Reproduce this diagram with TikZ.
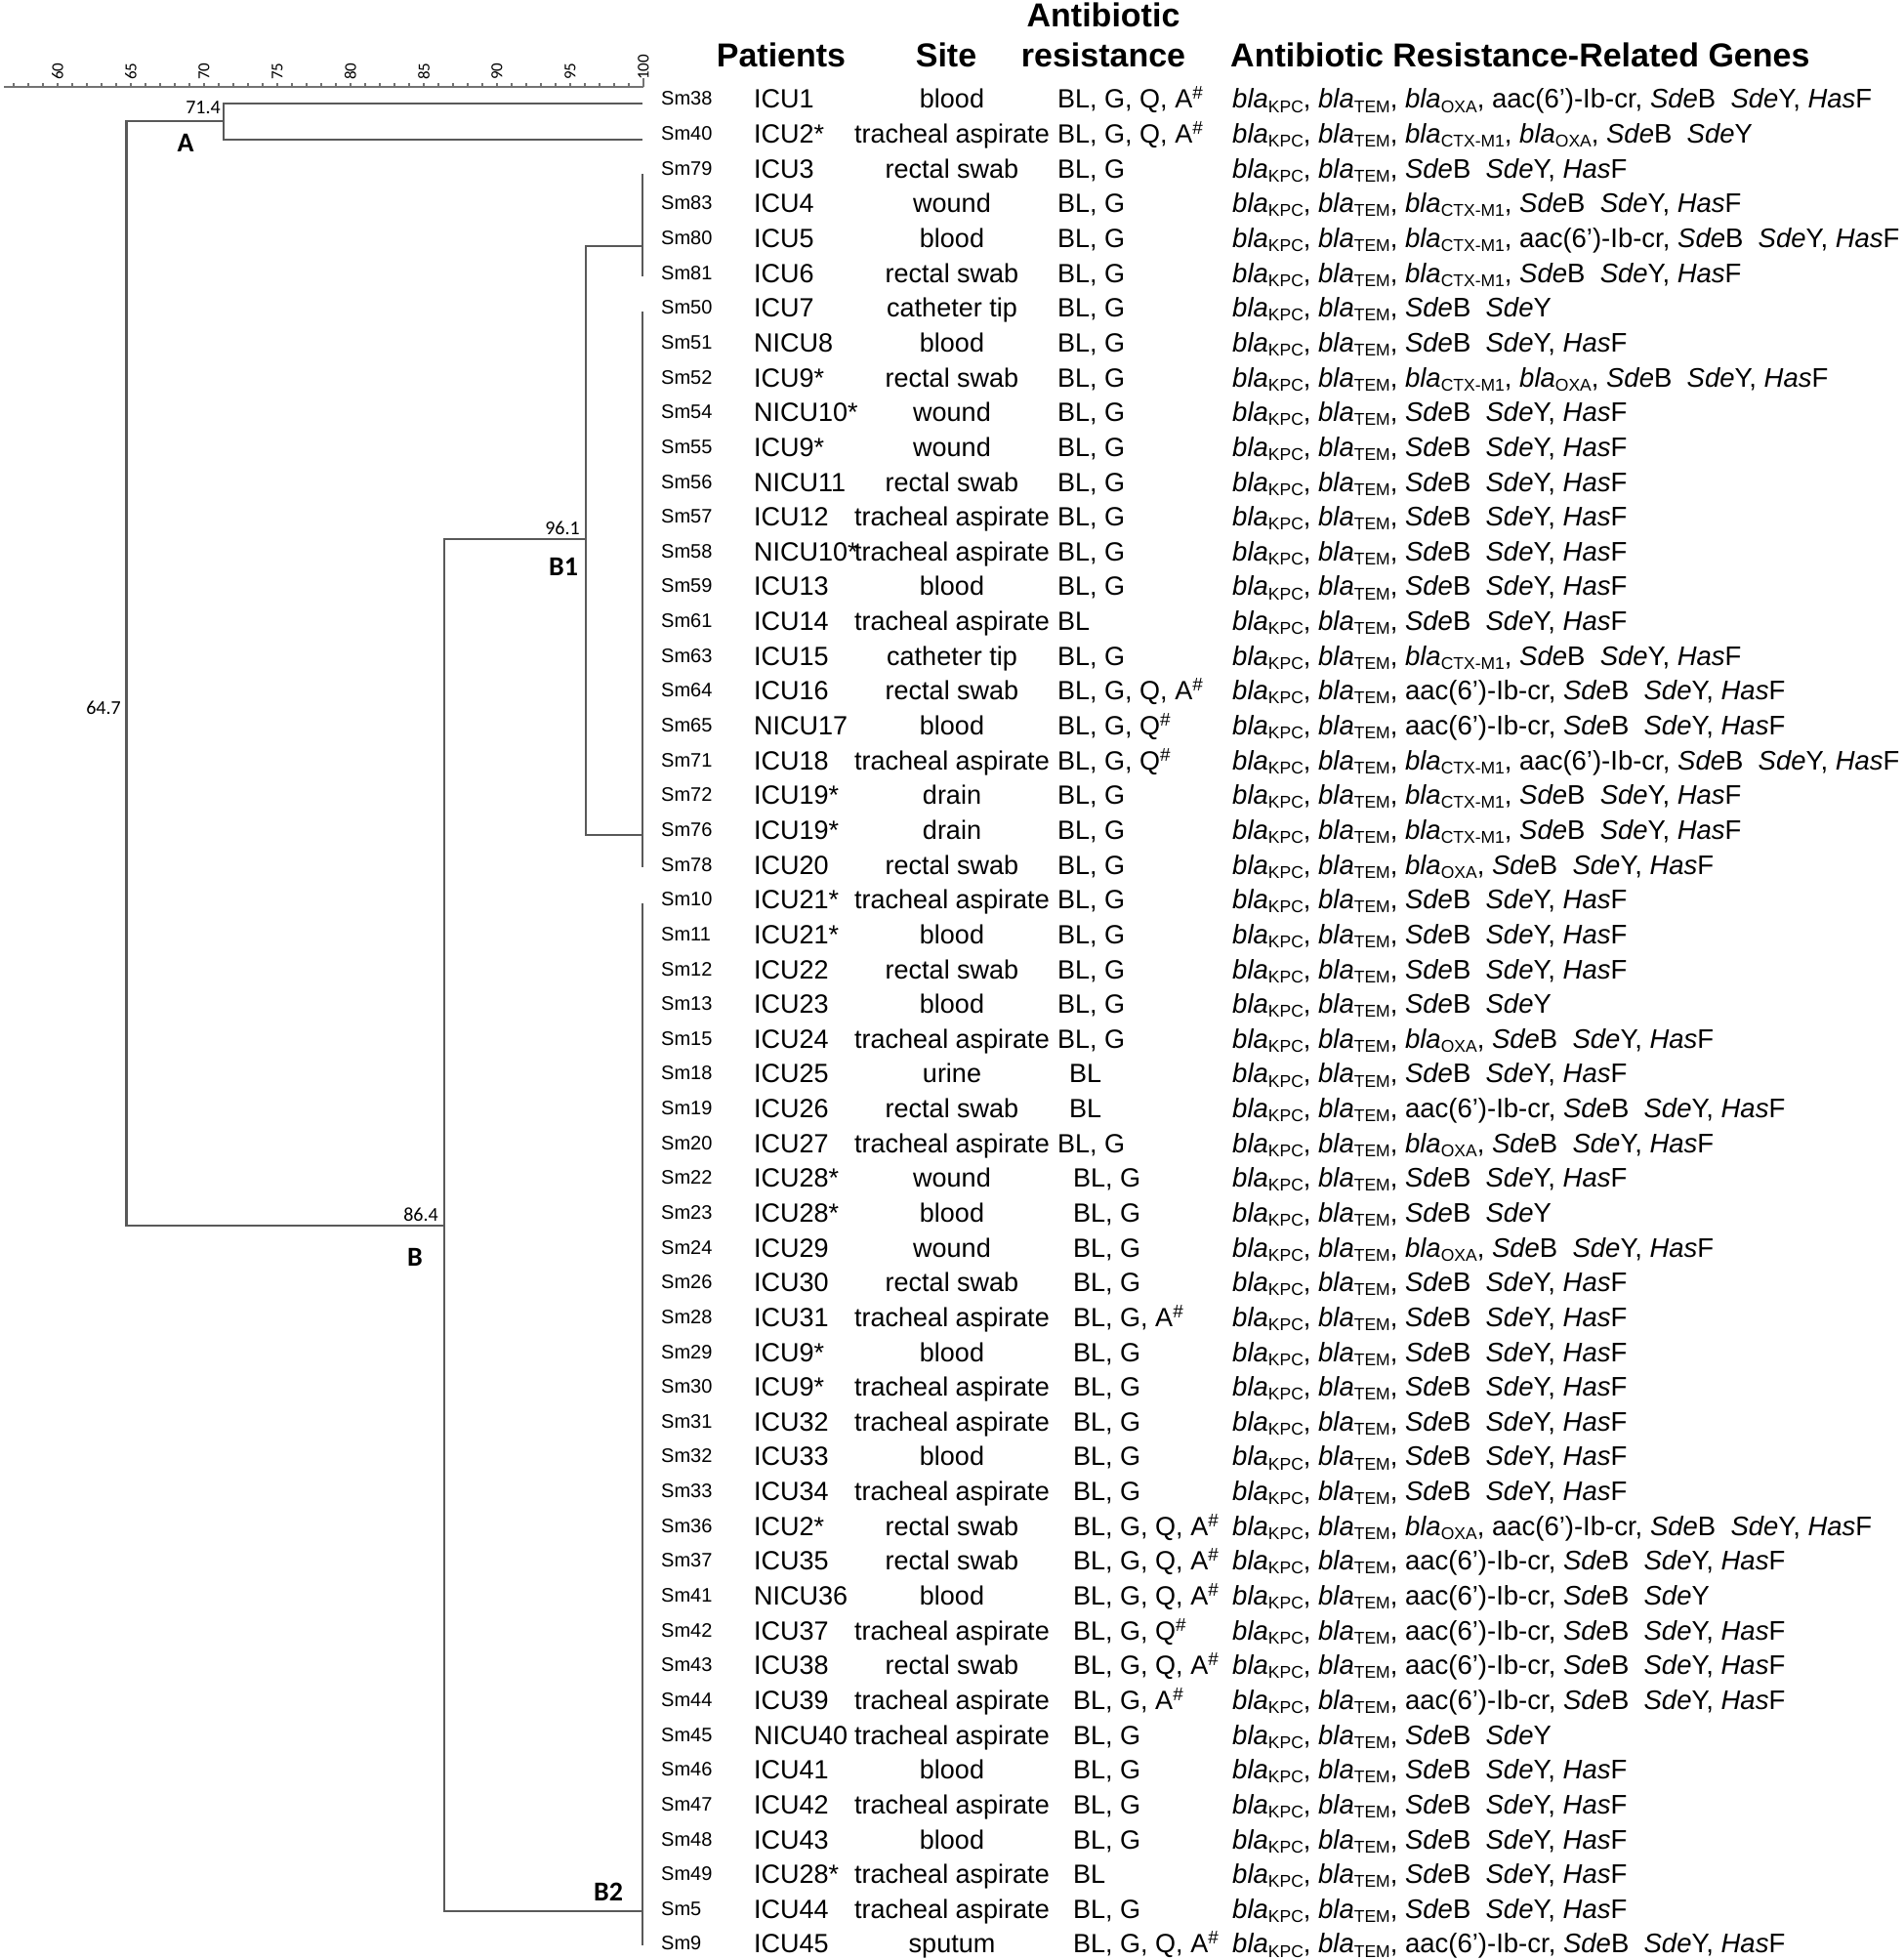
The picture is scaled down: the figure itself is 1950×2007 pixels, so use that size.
\documentclass[tikz,border=0pt]{standalone}
\usepackage{fontspec}
\setmainfont{Liberation Sans}
\newfontfamily\dendrofont{Carlito}
\newcommand{\gsub}[1]{\raisebox{-0.28ex}{\fontsize{17.5}{17.5}\selectfont #1}}
\newcommand{\bla}[1]{\textit{bla}\gsub{#1}}
\newcommand{\kpc}{\bla{KPC}}
\newcommand{\tem}{\bla{TEM}}
\newcommand{\ctx}{\bla{CTX-M1}}
\newcommand{\oxa}{\bla{OXA}}
\newcommand{\aac}{aac(6’)-Ib-cr}
\newcommand{\sdey}{\textit{Sde}B\ \ \textit{Sde}Y}
\newcommand{\hasf}{\textit{Has}F}
\newcommand{\ah}{A\textsuperscript{\#}}
\newcommand{\qh}{Q\textsuperscript{\#}}
\tikzset{
  tree/.style={draw=black!65, line width=2.2pt},
  axisline/.style={draw=black!55, line width=1.4pt},
  cell/.style={inner sep=0pt, anchor=base west, font=\fontsize{27}{30}\selectfont},
  genecell/.style={cell, font=\fontsize{27.5}{30}\selectfont},
  smlabel/.style={inner sep=0pt, anchor=base west, font=\fontsize{20}{22}\selectfont},
  head/.style={inner sep=0pt, anchor=base, font=\fontsize{34}{38}\selectfont\bfseries},
  ticklabel/.style={inner sep=0pt, anchor=west, rotate=90, font=\dendrofont\fontsize{17}{18}\selectfont},
  simval/.style={inner sep=0pt, anchor=base east, font=\dendrofont\fontsize{20}{22}\selectfont},
  clus/.style={inner sep=0pt, anchor=base, font=\dendrofont\fontsize{28}{30}\selectfont\bfseries}
}
\begin{document}
\begin{tikzpicture}[x=1pt, y=-1pt]
  \useasboundingbox[fill=white] (0,0) rectangle (1950,2007);

  \draw[axisline] (4,89) -- (659,89);
  \foreach \v in {57,...,100}
    \draw[axisline] ({659-(100-\v)*15},89) -- ++(0,-4);
  \draw[axisline] (659,89) -- (659,80);
  \foreach \v in {60,65,...,100}
    \node[ticklabel] (t\v) at ({659-(100-\v)*15},82) {\v};

  \coordinate (A) at (229,124);
  \coordinate (R) at (129.5,690);
  \coordinate (B) at (455,1255);
  \coordinate (B1) at (600,552);
  \coordinate (B1a) at (658,252);
  \coordinate (B1b) at (658,855);
  \coordinate (B2) at (658,1957);
  \draw[tree] (658,106) -| (A) |- (658,143);
  \draw[tree] (A) -| (R) |- (B);
  \draw[tree] (B1) -| (B) |- (B2);
  \draw[tree] (B1a) -| (B1) |- (B1b);
  \draw[tree] (658,178) -- (658,283);
  \draw[tree] (658,319) -- (658,888);
  \draw[tree] (658,925) -- (658,1992);

  \node[simval] (v714) at (226,117) {71.4};
  \node[simval] (v647) at (124,731) {64.7};
  \node[simval] (v961) at (594,547) {96.1};
  \node[simval] (v864) at (449,1250) {86.4};
  \node[clus] (cA) at (190,156) {A};
  \node[clus] (cB1) at (577,589) {B1};
  \node[clus] (cB) at (425,1296) {B};
  \node[clus] (cB2) at (623,1946) {B2};

  \node[head] (hpat) at (800,69) {Patients};
  \node[head] (hsite) at (969,69) {Site};
  \node[head] (hres1) at (1130,28) {Antibiotic};
  \node[head] (hres2) at (1130,69) {resistance};
  \node[head, anchor=base west] (hgen) at (1260,69) {Antibiotic Resistance-Related Genes};

  \foreach \sm/\pat/\site/\arx/\res/\genes [count=\i] in {
    Sm38/ICU1/blood/1083/{BL, G, Q, \ah}/{\kpc, \tem, \oxa, \aac, \sdey, \hasf},
    Sm40/ICU2*/tracheal aspirate/1083/{BL, G, Q, \ah}/{\kpc, \tem, \ctx, \oxa, \sdey},
    Sm79/ICU3/rectal swab/1083/{BL, G}/{\kpc, \tem, \sdey, \hasf},
    Sm83/ICU4/wound/1083/{BL, G}/{\kpc, \tem, \ctx, \sdey, \hasf},
    Sm80/ICU5/blood/1083/{BL, G}/{\kpc, \tem, \ctx, \aac, \sdey, \hasf},
    Sm81/ICU6/rectal swab/1083/{BL, G}/{\kpc, \tem, \ctx, \sdey, \hasf},
    Sm50/ICU7/catheter tip/1083/{BL, G}/{\kpc, \tem, \sdey},
    Sm51/NICU8/blood/1083/{BL, G}/{\kpc, \tem, \sdey, \hasf},
    Sm52/ICU9*/rectal swab/1083/{BL, G}/{\kpc, \tem, \ctx, \oxa, \sdey, \hasf},
    Sm54/NICU10*/wound/1083/{BL, G}/{\kpc, \tem, \sdey, \hasf},
    Sm55/ICU9*/wound/1083/{BL, G}/{\kpc, \tem, \sdey, \hasf},
    Sm56/NICU11/rectal swab/1083/{BL, G}/{\kpc, \tem, \sdey, \hasf},
    Sm57/ICU12/tracheal aspirate/1083/{BL, G}/{\kpc, \tem, \sdey, \hasf},
    Sm58/NICU10*/tracheal aspirate/1083/{BL, G}/{\kpc, \tem, \sdey, \hasf},
    Sm59/ICU13/blood/1083/{BL, G}/{\kpc, \tem, \sdey, \hasf},
    Sm61/ICU14/tracheal aspirate/1083/{BL}/{\kpc, \tem, \sdey, \hasf},
    Sm63/ICU15/catheter tip/1083/{BL, G}/{\kpc, \tem, \ctx, \sdey, \hasf},
    Sm64/ICU16/rectal swab/1083/{BL, G, Q, \ah}/{\kpc, \tem, \aac, \sdey, \hasf},
    Sm65/NICU17/blood/1083/{BL, G, \qh}/{\kpc, \tem, \aac, \sdey, \hasf},
    Sm71/ICU18/tracheal aspirate/1083/{BL, G, \qh}/{\kpc, \tem, \ctx, \aac, \sdey, \hasf},
    Sm72/ICU19*/drain/1083/{BL, G}/{\kpc, \tem, \ctx, \sdey, \hasf},
    Sm76/ICU19*/drain/1083/{BL, G}/{\kpc, \tem, \ctx, \sdey, \hasf},
    Sm78/ICU20/rectal swab/1083/{BL, G}/{\kpc, \tem, \oxa, \sdey, \hasf},
    Sm10/ICU21*/tracheal aspirate/1083/{BL, G}/{\kpc, \tem, \sdey, \hasf},
    Sm11/ICU21*/blood/1083/{BL, G}/{\kpc, \tem, \sdey, \hasf},
    Sm12/ICU22/rectal swab/1083/{BL, G}/{\kpc, \tem, \sdey, \hasf},
    Sm13/ICU23/blood/1083/{BL, G}/{\kpc, \tem, \sdey},
    Sm15/ICU24/tracheal aspirate/1083/{BL, G}/{\kpc, \tem, \oxa, \sdey, \hasf},
    Sm18/ICU25/urine/1095/{BL}/{\kpc, \tem, \sdey, \hasf},
    Sm19/ICU26/rectal swab/1095/{BL}/{\kpc, \tem, \aac, \sdey, \hasf},
    Sm20/ICU27/tracheal aspirate/1083/{BL, G}/{\kpc, \tem, \oxa, \sdey, \hasf},
    Sm22/ICU28*/wound/1099/{BL, G}/{\kpc, \tem, \sdey, \hasf},
    Sm23/ICU28*/blood/1099/{BL, G}/{\kpc, \tem, \sdey},
    Sm24/ICU29/wound/1099/{BL, G}/{\kpc, \tem, \oxa, \sdey, \hasf},
    Sm26/ICU30/rectal swab/1099/{BL, G}/{\kpc, \tem, \sdey, \hasf},
    Sm28/ICU31/tracheal aspirate/1099/{BL, G, \ah}/{\kpc, \tem, \sdey, \hasf},
    Sm29/ICU9*/blood/1099/{BL, G}/{\kpc, \tem, \sdey, \hasf},
    Sm30/ICU9*/tracheal aspirate/1099/{BL, G}/{\kpc, \tem, \sdey, \hasf},
    Sm31/ICU32/tracheal aspirate/1099/{BL, G}/{\kpc, \tem, \sdey, \hasf},
    Sm32/ICU33/blood/1099/{BL, G}/{\kpc, \tem, \sdey, \hasf},
    Sm33/ICU34/tracheal aspirate/1099/{BL, G}/{\kpc, \tem, \sdey, \hasf},
    Sm36/ICU2*/rectal swab/1099/{BL, G, Q, \ah}/{\kpc, \tem, \oxa, \aac, \sdey, \hasf},
    Sm37/ICU35/rectal swab/1099/{BL, G, Q, \ah}/{\kpc, \tem, \aac, \sdey, \hasf},
    Sm41/NICU36/blood/1099/{BL, G, Q, \ah}/{\kpc, \tem, \aac, \sdey},
    Sm42/ICU37/tracheal aspirate/1099/{BL, G, \qh}/{\kpc, \tem, \aac, \sdey, \hasf},
    Sm43/ICU38/rectal swab/1099/{BL, G, Q, \ah}/{\kpc, \tem, \aac, \sdey, \hasf},
    Sm44/ICU39/tracheal aspirate/1099/{BL, G, \ah}/{\kpc, \tem, \aac, \sdey, \hasf},
    Sm45/NICU40/tracheal aspirate/1099/{BL, G}/{\kpc, \tem, \sdey},
    Sm46/ICU41/blood/1099/{BL, G}/{\kpc, \tem, \sdey, \hasf},
    Sm47/ICU42/tracheal aspirate/1099/{BL, G}/{\kpc, \tem, \sdey, \hasf},
    Sm48/ICU43/blood/1099/{BL, G}/{\kpc, \tem, \sdey, \hasf},
    Sm49/ICU28*/tracheal aspirate/1099/{BL}/{\kpc, \tem, \sdey, \hasf},
    Sm5/ICU44/tracheal aspirate/1099/{BL, G}/{\kpc, \tem, \sdey, \hasf},
    Sm9/ICU45/sputum/1099/{BL, G, Q, \ah}/{\kpc, \tem, \aac, \sdey, \hasf}
  } {
    \pgfmathsetmacro\ry{101+35.64*(\i-1)}
    \node[smlabel] (sm\i) at (677,\ry+7) {\sm};
    \node[cell] (pt\i) at (772,\ry+10) {\pat};
    \node[cell, anchor=base] (st\i) at (975,\ry+10) {\site};
    \node[cell] (ar\i) at (\arx,\ry+10) {\res};
    \node[genecell] (gn\i) at (1262,\ry+10) {\genes};
  }
\end{tikzpicture}
\end{document}
